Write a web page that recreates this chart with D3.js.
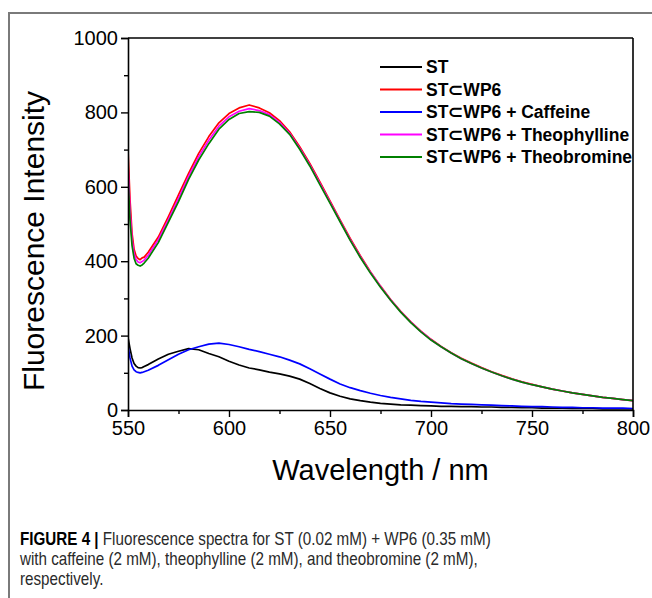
<!DOCTYPE html>
<html><head><meta charset="utf-8">
<script src="https://cdn.jsdelivr.net/npm/d3@7"></script>
<style>body{margin:0;background:#fff} svg{display:block}</style>
</head><body><svg id="c" width="652" height="598"></svg>
<script>
const wavelengths = [550,551,552,553,554,555,556,557,558,560,
  565,570,575,580,585,590,595,600,605,610,615,620,625,630,635,640,645,650,655,660,
  665,670,675,680,685,690,695,700,705,710,715,720,725,730,735,740,745,750,755,760,
  765,770,775,780,785,790,795,800];
const seriesNames = ["ST","ST\u2282WP6","ST\u2282WP6 + Caffeine","ST\u2282WP6 + Theophylline","ST\u2282WP6 + Theobromine"];
const seriesColors = ["#000000","#ff0000","#0000ff","#ff00ff","#008000"];
const stValues = [195,165,140,125,118,114,113,114,117,122,
  137,150,158,165,162,152,143,131,121,113,108,102,97,91,83,71,58,46,37,30,
  25,21,18,16,14,13,12,11,10,10,9,9,8,8,7,7,6,6,5,5,
  5,4,4,4,3,3,3,3];
const wp6Values = [700,565,475,432,414,407,404,409,411,424,
  465,520,578,636,690,735,772,797,812,820,812,799,778,748,708,663,613,562,511,461,
  415,372,333,297,265,237,212,190,171,154,139,126,114,103,93,84,76,69,62,56,
  51,46,42,38,34,31,28,25];
const caffeineValues = [172,140,118,108,103,101,100,101,103,107,
  120,135,150,162,170,177,180,176,170,163,157,150,143,134,124,111,97,83,70,60,
  52,45,39,34,30,26,23,21,19,17,16,15,14,13,12,11,10,9,9,8,
  7,7,6,6,5,5,5,4];
const theophyllineValues = [660,535,458,420,404,398,396,399,403,416,
  458,512,569,628,681,725,763,788,803,810,805,794,773,744,704,659,609,559,508,458,
  412,370,332,296,264,236,211,189,170,153,138,125,113,102,92,83,75,68,62,56,
  51,46,42,38,34,31,28,25];
const theobromineValues = [625,510,442,408,393,389,387,390,395,408,
  450,505,560,620,672,716,755,781,797,802,800,790,769,741,701,656,606,556,506,456,
  410,368,330,295,263,235,210,188,170,153,138,125,113,102,92,83,75,68,62,56,
  51,46,42,38,34,31,28,25];
const xTicks = [550,600,650,700,750,800];
const yTicks = [0,200,400,600,800,1000];
const xLabel = "Wavelength / nm";
const yLabel = "Fluorescence Intensity";
const captionLines = [
  ["FIGURE 4 | ", "Fluorescence spectra for ST (0.02 mM) + WP6 (0.35 mM)"],
  ["", "with caffeine (2 mM), theophylline (2 mM), and theobromine (2 mM),"],
  ["", "respectively."]
];

const allValues = [stValues, wp6Values, caffeineValues, theophyllineValues, theobromineValues];
const svg = d3.select("#c");
const L = 128, R = 633, T = 38, B = 410;
const x = d3.scaleLinear().domain([550,800]).range([L,R]);
const y = d3.scaleLinear().domain([0,1000]).range([B,T]);

// outer frame
svg.append("line").attr("x1",8).attr("x2",652).attr("y1",13).attr("y2",13).attr("stroke","#7a7a7a").attr("stroke-width",2);
svg.append("line").attr("x1",9).attr("x2",9).attr("y1",12).attr("y2",598).attr("stroke","#7a7a7a").attr("stroke-width",2);

svg.append("clipPath").attr("id","clip").append("rect").attr("x",L).attr("y",T).attr("width",R-L).attr("height",B-T);

const line = d3.line().x((d,i)=>x(wavelengths[i])).y(d=>y(d));
const g = svg.append("g").attr("clip-path","url(#clip)");
allValues.forEach((vals,k)=>{
  g.append("path").datum(vals).attr("d",line).attr("fill","none")
    .attr("stroke",seriesColors[k]).attr("stroke-width",1.7).attr("stroke-linejoin","round");
});

// axes
const font = "Arial, 'Liberation Sans', sans-serif";
const xAxis = svg.append("g").attr("transform",`translate(0,${B})`)
  .call(d3.axisBottom(x).tickValues(xTicks).tickSize(7).tickPadding(4).tickFormat(d3.format("d")));
const xMinor = svg.append("g").attr("transform",`translate(0,${B})`)
  .call(d3.axisBottom(x).tickValues(d3.range(575,800,50)).tickSize(4).tickFormat(""));
const yAxis = svg.append("g").attr("transform",`translate(${L},0)`)
  .call(d3.axisLeft(y).tickValues(yTicks).tickSize(7).tickPadding(3).tickFormat(d3.format("d")));
const yMinor = svg.append("g").attr("transform",`translate(${L},0)`)
  .call(d3.axisLeft(y).tickValues(d3.range(100,1000,200)).tickSize(4).tickFormat(""));
[xAxis,xMinor,yAxis,yMinor].forEach(a=>{
  a.select(".domain").attr("stroke","#000").attr("stroke-width",1.6);
  a.selectAll(".tick line").attr("stroke","#000").attr("stroke-width",1.4);
  a.selectAll("text").attr("font-family",font).attr("font-size",20).attr("fill","#000");
});
xMinor.select(".domain").remove(); yMinor.select(".domain").remove();
// top and right frame
svg.append("line").attr("x1",L).attr("x2",R).attr("y1",T).attr("y2",T).attr("stroke","#000").attr("stroke-width",1.6);
svg.append("line").attr("x1",R).attr("x2",R).attr("y1",T).attr("y2",B).attr("stroke","#000").attr("stroke-width",1.6);

svg.append("text").attr("x",(L+R)/2).attr("y",480).attr("text-anchor","middle")
  .attr("font-family",font).attr("font-size",29).text(xLabel);
svg.append("text").attr("transform",`translate(44,241) rotate(-90)`).attr("text-anchor","middle")
  .attr("font-family",font).attr("font-size",30).text(yLabel);

// legend
const lg = svg.append("g");
seriesNames.forEach((n,k)=>{
  const yy = 67 + k*22.5;
  lg.append("line").attr("x1",380).attr("x2",422).attr("y1",yy).attr("y2",yy)
    .attr("stroke",seriesColors[k]).attr("stroke-width",1.8);
  lg.append("text").attr("x",426).attr("y",yy+6).attr("font-family",font)
    .attr("font-weight","bold").attr("font-size",17.5).text(n);
});

// caption (condensed look)
const cap = svg.append("g").attr("transform","translate(20,0) scale(0.845,1)");
captionLines.forEach((ln,i)=>{
  const t = cap.append("text").attr("x",0).attr("y",545+i*20)
    .attr("font-family",font).attr("font-size",18).attr("fill","#2a2a2a");
  if (ln[0]) t.append("tspan").attr("font-weight","bold").attr("fill","#000").text(ln[0]);
  t.append("tspan").text(ln[1]);
});
</script></body></html>
